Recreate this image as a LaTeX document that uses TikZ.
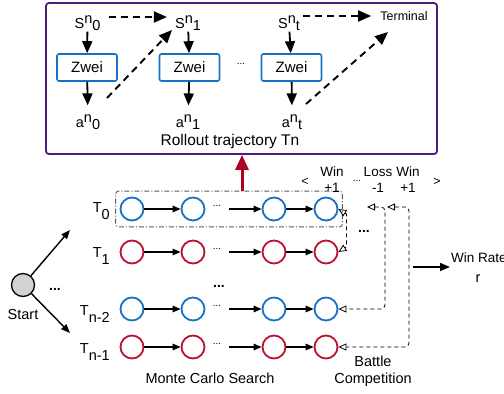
\documentclass[tikz,border=0pt]{standalone}
\usepackage{fontspec}
\setmainfont{Liberation Sans}
\usetikzlibrary{arrows.meta,calc,fit}
\definecolor{cblue}{RGB}{22,114,196}
\definecolor{cred}{RGB}{190,16,48}
\definecolor{darr}{RGB}{176,0,32}
\definecolor{cpurple}{RGB}{75,30,125}
\definecolor{cgray}{RGB}{210,210,210}
\definecolor{boxgray}{RGB}{80,90,110}
\newcommand\upr[1]{\raisebox{0.38em}{#1}}
\newcommand\dnr[1]{\raisebox{-0.1em}{#1}}
\newcommand\dnt[1]{\raisebox{-0.55em}{#1}}
\begin{document}
\begin{tikzpicture}[x=1pt,y=-1pt,
  every node/.style={font=\fontsize{14.5}{17}\selectfont, inner sep=1pt},
  lab/.style={font=\fontsize{13.5}{16}\selectfont, align=center},
  smalllab/.style={font=\fontsize{12.5}{15}\selectfont},
  circ/.style={circle, minimum size=23, line width=1.8, draw},
  zwei/.style={draw=cblue, line width=1.6, rounded corners=2, minimum width=60, minimum height=27, font=\fontsize{15}{17}\selectfont},
  darrow/.style={line width=1.8, -{Triangle[width=10,length=12]}},
  dasharr/.style={line width=1.9, dash pattern=on 7pt off 5pt, -{Triangle[width=11,length=13]}},
  rowarr/.style={line width=1.4, -{Triangle[width=6.5,length=8]}},
  btl/.style={line width=0.8, dash pattern=on 4pt off 3pt, {Triangle[open,width=7,length=8]}-{Triangle[open,width=7,length=8]}},
  dotsA/.style={font=\fontsize{10}{12}\selectfont, anchor=base},
  dotsB/.style={font=\bfseries\fontsize{14}{16}\selectfont, anchor=base}
]
\useasboundingbox (0,0) rectangle (504,394);

% ---------- top box ----------
\node[draw=cpurple, line width=1.8, rounded corners=3, minimum width=391, minimum height=151] (topbox) at (241.5,78.5) {};

\node (s0) at (87.5,23) {S\upr{n}\dnr{0}};
\node (s1) at (188,23) {S\upr{n}\dnr{1}};
\node (st) at (289,23) {S\upr{n}\dnr{t}};
\node[smalllab] (term) at (404,16) {Terminal};

\node[zwei] (z0) at (87,67.5) {Zwei};
\node[zwei] (z1) at (189.5,67.5) {Zwei};
\node[zwei] (z2) at (291.5,67.5) {Zwei};
\node[dotsA] (tdots) at (241,64) {...};

\node (a0) at (88,122) {a\upr{n}\dnr{0}};
\node (a1) at (188,122) {a\upr{n}\dnr{1}};
\node (at) at (292,122) {a\upr{n}\dnr{t}};
\node[font=\fontsize{15.5}{18}\selectfont] (roll) at (230,141) {Rollout trajectory Tn};

\draw[darrow] (s0) -- (z0);
\draw[darrow] (s1) -- (z1);
\draw[darrow] (st) -- (z2);
\draw[darrow, shorten >=8] (z0) -- (a0);
\draw[darrow, shorten >=8] (z1) -- (a1);
\draw[darrow, shorten >=8] (z2) -- (at);

\draw[dasharr, shorten <=7, shorten >=7] ([yshift=6pt]s0.east) -- ([yshift=6pt]s1.west);
\draw[dasharr] ($(a0)+(19,-24)$) -- ($(s1)+(-16,7)$);
\draw[dasharr, shorten <=2, shorten >=8] ([yshift=7pt]st.east) -- (term.west);
\draw[dasharr] ($(at)+(14,-18)$) -- ($(term)+(-16,16)$);

% ---------- rows ----------
\foreach \r/\yy/\cc in {0/209/cblue,1/252/cred,2/309/cblue,3/347/cred}{
  \foreach \i/\xx in {1/132,2/193,3/274,4/326}{
    \node[circ, draw=\cc] (c\r\i) at (\xx,\yy) {};
  }
  \draw[rowarr] (c\r1) -- (c\r2);
  \node[dotsA] (d\r) at (217,\yy-3) {...};
  \coordinate (e\r) at (229,\yy);
  \draw[rowarr] (e\r) -- (c\r3);
  \draw[rowarr] (c\r3) -- (c\r4);
}

\node[anchor=base east] (L0) at (111,212) {T\dnt{0}};
\node[anchor=base east] (L1) at (111,257) {T\dnt{1}};
\node[anchor=base east] (L2) at (111,315) {T\dnt{n-2}};
\node[anchor=base east] (L3) at (111,353) {T\dnt{n-1}};

\node[dotsB] (mdots) at (219,287) {...};

\node[fit=(c01)(c04), inner xsep=4, inner ysep=5.5, draw=boxgray, line width=0.9,
      dash pattern=on 5pt off 2pt on 1pt off 2pt, rounded corners=3] (t0box) {};

\coordinate (rx) at (242,0);
\draw[line width=3, darr, -{Triangle[width=13,length=15]}] (t0box.north -| rx) -- (topbox.south -| rx);

% ---------- start ----------
\node[circle, minimum size=23, fill=cgray, draw=black, line width=1.3] (start) at (23,285) {};
\node (startlab) at (23,315) {Start};
\coordinate (sa) at (70,230);
\coordinate (sb) at (70,333);
\draw[line width=1.4, -{Triangle[width=7,length=9]}] (start) -- (sa);
\draw[line width=1.4, -{Triangle[width=7,length=9]}] (start) -- (sb);
\node[dotsB] (sdots) at (55,290) {...};

\node (mcs) at (210,378) {Monte Carlo Search};

% ---------- battle ----------
\node[lab] (w1) at (332,180) {Win\\+1};
\node[lab] (l1) at (378,180) {Loss\\-1};
\node[lab] (w2) at (408,180) {Win\\+1};
\node[smalllab] (lt) at (305,182) {<};
\node[smalllab] (gt) at (437,182) {>};
\node[dotsA] (bdots1) at (357,181) {...};
\node[dotsB] (bdots2) at (364,232) {...};

\draw[btl] (c04.east) -- ++(8,5) -- ++(0,33) -- (c14.east);
\coordinate (bB) at (367,207);
\coordinate (bC) at (387,207);
\draw[btl, rounded corners=4] (bB) -- ++(18,0) |- (c24.east);
\draw[btl, rounded corners=4] (bC) -- ++(22,0) |- (c34.east);

\node[align=center, font=\fontsize{14.5}{17}\selectfont] (battle) at (373,371) {Battle\\Competition};

\coordinate (wr0) at (413,267);
\node[lab, anchor=west] (wr) at (450,258) {Win Rate};
\node[anchor=base] (rr) at (478,282) {r};
\draw[line width=1.5, -{Triangle[width=8,length=10]}] (wr0) -- (wr0 -| wr.west);
\end{tikzpicture}
\end{document}
